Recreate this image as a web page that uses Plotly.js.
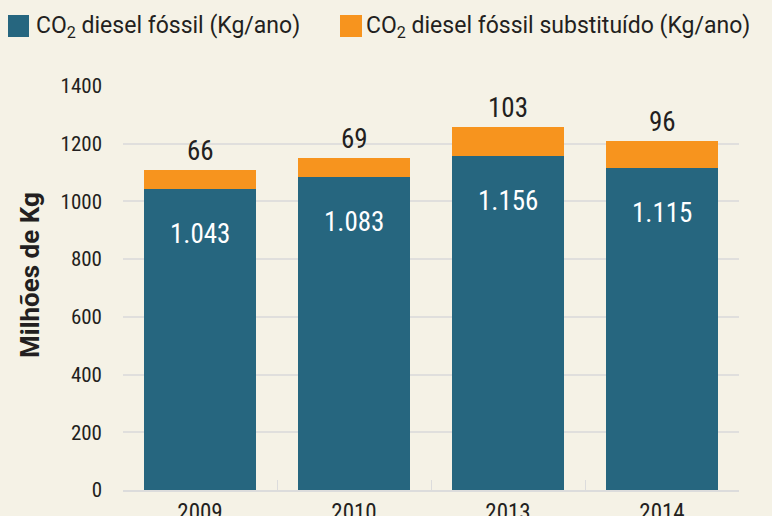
<!DOCTYPE html>
<html>
<head>
<meta charset="utf-8">
<script src="https://cdn.plot.ly/plotly-3.0.1.min.js"></script>
<style>
html,body{margin:0;padding:0;background:#f5f2e6;}
#chart{width:772px;height:516px;}
</style>
</head>
<body>
<div id="chart"></div>
<script>
var years = ['2009', '2010', '2013', '2014'];
var fossil = [1043, 1083, 1156, 1115];
var substituted = [66, 69, 103, 96];
var seriesNames = ['CO<sub>2</sub> diesel fóssil (Kg/ano)', 'CO<sub>2</sub> diesel fóssil substituído (Kg/ano)'];
var yTitle = 'Milhões de Kg';

var BLUE = '#26667f', ORANGE = '#f7941e', BG = '#f5f2e6', TXT = '#231f20';
var FONT = '"Liberation Sans Narrow", "Roboto Condensed", Roboto, sans-serif';
var WIDE = 'Roboto, sans-serif';

var L = 123, R = 33, T = 86, B = 26, W = 772 - L - R, H = 516 - T - B;
function px(x) { return (x - L) / W; }
function py(y) { return (T + H - y) / H; }

function fmt(n) {
  if (n >= 1000) { var r = String(n % 1000); while (r.length < 3) r = '0' + r; return Math.floor(n / 1000) + '.' + r; }
  return String(n);
}

var traces = [
  {type: 'bar', x: years, y: fossil, name: seriesNames[0], marker: {color: BLUE}, hoverinfo: 'none'},
  {type: 'bar', x: years, y: substituted, name: seriesNames[1], marker: {color: ORANGE}, hoverinfo: 'none'}
];

var annotations = [];
years.forEach(function (yr, i) {
  annotations.push({x: i, y: fossil[i], xref: 'x', yref: 'y', text: fmt(fossil[i]), showarrow: false,
    yanchor: 'middle', yshift: -45, font: {family: FONT, size: 27, color: '#ffffff'}});
  annotations.push({x: i, y: fossil[i] + substituted[i], xref: 'x', yref: 'y', text: fmt(substituted[i]), showarrow: false,
    yanchor: 'middle', yshift: 19, font: {family: FONT, size: 27, color: TXT}});
});
// y title
annotations.push({xref: 'paper', yref: 'paper', x: px(30), y: py(275), text: '<b>' + yTitle + '</b>', textangle: -90,
  showarrow: false, xanchor: 'center', yanchor: 'middle', font: {family: WIDE, size: 26, color: TXT}});
// legend texts
annotations.push({xref: 'paper', yref: 'paper', x: px(34), y: py(27), text: seriesNames[0], showarrow: false,
  xanchor: 'left', yanchor: 'middle', font: {family: WIDE, size: 23, color: TXT}});
annotations.push({xref: 'paper', yref: 'paper', x: px(364), y: py(27), text: seriesNames[1], showarrow: false,
  xanchor: 'left', yanchor: 'middle', font: {family: WIDE, size: 23, color: TXT}});

var shapes = [
  {type: 'rect', xref: 'paper', yref: 'paper', x0: px(8), x1: px(29), y0: py(37), y1: py(15), fillcolor: BLUE, line: {width: 0}},
  {type: 'rect', xref: 'paper', yref: 'paper', x0: px(340), x1: px(362), y0: py(37), y1: py(15), fillcolor: ORANGE, line: {width: 0}}
];

var layout = {
  width: 772, height: 516,
  paper_bgcolor: BG, plot_bgcolor: BG,
  margin: {l: L, r: R, t: T, b: B, pad: 0},
  barmode: 'stack', bargap: 0.273,
  showlegend: false,
  xaxis: {type: 'category', range: [-0.5, 3.5], tickson: 'boundaries', ticks: 'inside', ticklen: 10, tickcolor: '#dcdcdc', tickwidth: 1,
    showline: true, linecolor: '#dcdcdc', linewidth: 2, showgrid: false,
    tickfont: {family: FONT, size: 23, color: TXT}, fixedrange: true},
  yaxis: {range: [0, 1400], dtick: 200, showgrid: true, gridcolor: '#e0dfdd', gridwidth: 2, zeroline: false,
    ticks: '', ticklabelstandoff: 20, tickfont: {family: FONT, size: 21, color: TXT}, fixedrange: true},
  annotations: annotations,
  shapes: shapes,
  font: {family: FONT, color: TXT}
};

Plotly.newPlot('chart', traces, layout, {displayModeBar: false, staticPlot: true});
</script>
</body>
</html>
